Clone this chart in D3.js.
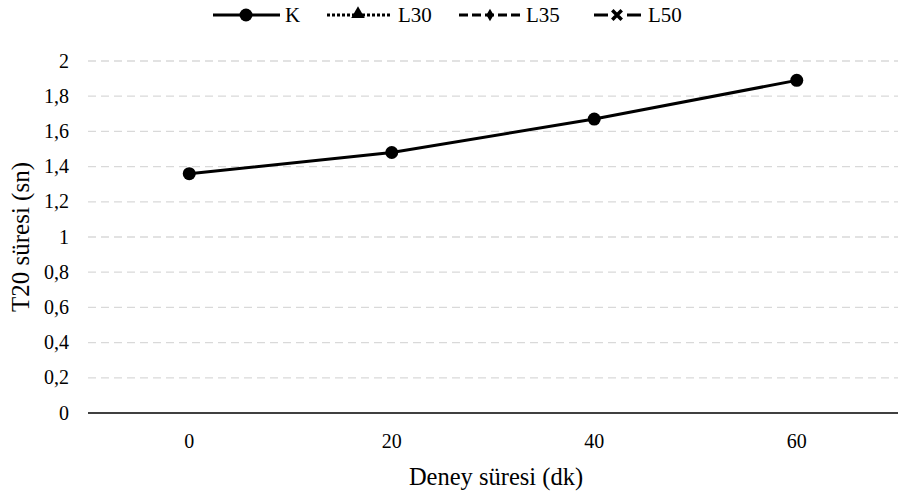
<!DOCTYPE html>
<html>
<head>
<meta charset="utf-8">
<script src="https://cdn.jsdelivr.net/npm/d3@7"></script>
<style>
  body { margin: 0; background: #fff; }
</style>
</head>
<body>
<script>
// data
var sureler = [0, 20, 40, 60];
var K = [1.36, 1.48, 1.67, 1.89];
var L30 = [];
var L35 = [];
var L50 = [];
var yTicks = [0, 0.2, 0.4, 0.6, 0.8, 1, 1.2, 1.4, 1.6, 1.8, 2];
var seriesNames = ["K", "L30", "L35", "L50"];

var width = 898, height = 499;
var margin = {left: 88, right: 0, top: 61, bottom: 86};
var serif = "Liberation Serif";

var svg = d3.select("body").append("svg")
  .attr("width", width)
  .attr("height", height);

var x = d3.scalePoint()
  .domain(sureler)
  .range([margin.left, width - margin.right])
  .padding(0.5);

var y = d3.scaleLinear()
  .domain([0, 2])
  .range([height - margin.bottom, margin.top]);

// gridlines
svg.append("g").selectAll("line")
  .data(yTicks.filter(function(d){ return d > 0; }))
  .enter().append("line")
  .attr("x1", margin.left)
  .attr("x2", width - margin.right)
  .attr("y1", function(d){ return y(d); })
  .attr("y2", function(d){ return y(d); })
  .attr("stroke", "#d9d9d9")
  .attr("stroke-width", 1.3)
  .attr("stroke-dasharray", "8,5");

// y labels
svg.append("g").selectAll("text")
  .data(yTicks)
  .enter().append("text")
  .attr("x", 69)
  .attr("y", function(d){ return y(d); })
  .attr("dy", "0.33em")
  .attr("text-anchor", "end")
  .attr("font-family", serif)
  .attr("font-size", 20)
  .text(function(d){ return String(d).replace(".", ","); });

// x axis line
svg.append("line")
  .attr("x1", margin.left)
  .attr("x2", width - margin.right)
  .attr("y1", y(0))
  .attr("y2", y(0))
  .attr("stroke", "#000")
  .attr("stroke-width", 1.5);

// x labels
svg.append("g").selectAll("text")
  .data(sureler)
  .enter().append("text")
  .attr("x", function(d){ return x(d); })
  .attr("y", 448)
  .attr("text-anchor", "middle")
  .attr("font-family", serif)
  .attr("font-size", 20)
  .text(function(d){ return d; });

// axis titles
svg.append("text")
  .attr("x", 496)
  .attr("y", 485)
  .attr("text-anchor", "middle")
  .attr("font-family", serif)
  .attr("font-size", 24.5)
  .text("Deney süresi (dk)");

svg.append("text")
  .attr("transform", "translate(29,237) rotate(-90)")
  .attr("text-anchor", "middle")
  .attr("font-family", serif)
  .attr("font-size", 25)
  .text("T20 süresi (sn)");

// K series
var line = d3.line()
  .x(function(d, i){ return x(sureler[i]); })
  .y(function(d){ return y(d); });

svg.append("path")
  .datum(K)
  .attr("d", line)
  .attr("fill", "none")
  .attr("stroke", "#000")
  .attr("stroke-width", 3);

svg.append("g").selectAll("circle")
  .data(K)
  .enter().append("circle")
  .attr("cx", function(d, i){ return x(sureler[i]); })
  .attr("cy", function(d){ return y(d); })
  .attr("r", 6.5)
  .attr("fill", "#000");

// legend
var legend = svg.append("g");
var ly = 15;

// K
legend.append("line").attr("x1", 213).attr("x2", 280).attr("y1", ly).attr("y2", ly)
  .attr("stroke", "#000").attr("stroke-width", 3);
legend.append("circle").attr("cx", 246).attr("cy", ly).attr("r", 6.5).attr("fill", "#000");

// L30
legend.append("line").attr("x1", 327).attr("x2", 392).attr("y1", ly).attr("y2", ly)
  .attr("stroke", "#000").attr("stroke-width", 3).attr("stroke-dasharray", "3,2");
legend.append("path").attr("d", d3.symbol().type(d3.symbolTriangle).size(80)())
  .attr("transform", "translate(358," + (ly - 1) + ")").attr("fill", "#000");

// L35
legend.append("line").attr("x1", 459).attr("x2", 522).attr("y1", ly).attr("y2", ly)
  .attr("stroke", "#000").attr("stroke-width", 3).attr("stroke-dasharray", "9,4");
legend.append("path").attr("d", d3.symbol().type(d3.symbolDiamond).size(45)())
  .attr("transform", "translate(490," + ly + ")").attr("fill", "#000");

// L50
legend.append("line").attr("x1", 594).attr("x2", 608).attr("y1", ly).attr("y2", ly)
  .attr("stroke", "#000").attr("stroke-width", 3);
legend.append("line").attr("x1", 627).attr("x2", 641).attr("y1", ly).attr("y2", ly)
  .attr("stroke", "#000").attr("stroke-width", 3);
legend.append("path").attr("d", d3.symbol().type(d3.symbolX).size(60)())
  .attr("transform", "translate(617," + ly + ")")
  .attr("fill", "none").attr("stroke", "#000").attr("stroke-width", 3.5);

var textX = [285, 398, 526, 648];
legend.selectAll("text.lbl")
  .data(seriesNames)
  .enter().append("text")
  .attr("class", "lbl")
  .attr("x", function(d, i){ return textX[i]; })
  .attr("y", ly)
  .attr("dy", "0.35em")
  .attr("font-family", serif)
  .attr("font-size", 21)
  .text(function(d){ return d; });
</script>
</body>
</html>
